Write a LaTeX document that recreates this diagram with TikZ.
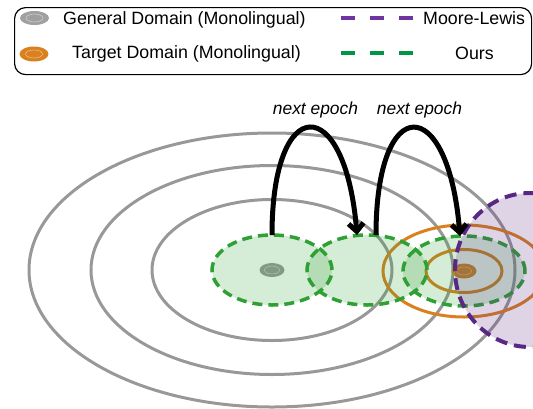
\documentclass[tikz,border=0pt]{standalone}
\usepackage{fontspec}
\setmainfont{Liberation Sans}
\usetikzlibrary{shapes.geometric,arrows.meta}
\definecolor{ggray}{RGB}{152,152,152}
\definecolor{ggreen}{RGB}{46,160,52}
\definecolor{gorange}{RGB}{218,128,30}
\definecolor{gpurple}{RGB}{88,40,132}
\definecolor{lgray}{RGB}{160,160,160}
\definecolor{lpurple}{RGB}{112,52,160}
\definecolor{lgreen}{RGB}{0,150,70}
\tikzset{
  oval/.style 2 args={ellipse,inner sep=0pt,outer sep=0pt,minimum width=#1pt,minimum height=#2pt},
  grayring/.style={draw=ggray,line width=3pt},
  orangering/.style={draw=gorange,line width=3pt},
  zone/.style={fill=ggreen,fill opacity=0.2,draw=ggreen,draw opacity=1,line width=3.5pt,dash pattern=on 10pt off 6pt},
  mlzone/.style={fill=gpurple,fill opacity=0.2,draw=gpurple,draw opacity=1,line width=4pt,dash pattern=on 12pt off 7pt},
  hop/.style={line width=5pt,-{Straight Barb[length=8pt,width=15pt]}},
  lbl/.style={inner sep=0pt,anchor=base,font=\fontsize{17.4}{20}\selectfont\itshape},
  legtext/.style={inner sep=0pt,anchor=base west,font=\fontsize{17.8}{20}\selectfont},
  shine/.style={draw=white,draw opacity=0.55,line width=0.5pt},
  legdash/.style={line width=4pt,dash pattern=on 13.5pt off 15.5pt}
}
\begin{document}
\begin{tikzpicture}[x=1pt,y=-1pt]
\useasboundingbox (0,0) rectangle (533,408);
\clip (0,0) rectangle (533,408);

% legend
\node[draw=black,line width=1.2pt,rounded corners=11pt,minimum width=517pt,minimum height=67pt,inner sep=0pt,anchor=north west] (legend) at (14,7) {};
\node[oval={29}{14},fill=lgray] (lg) at (34.5,18) {};
\node[oval={17}{8},shine] (lgs) at (lg) {};
\node[oval={29}{15},fill=gorange] (lo) at (34,54) {};
\node[oval={17}{8},shine] (los) at (lo) {};
\node[legtext] (lgt) at (63,24) {General Domain (Monolingual)};
\node[legtext] (lot) at (72,58.5) {Target Domain (Monolingual)};
\coordinate (lpa) at (341,18); \coordinate (lpb) at (413,18);
\draw[legdash,draw=lpurple] (lpa) -- (lpb);
\node[legtext] (lml) at (423,24) {Moore-Lewis};
\coordinate (lga) at (341,53); \coordinate (lgb) at (413,53);
\draw[legdash,draw=lgreen] (lga) -- (lgb);
\node[legtext] (lours) at (455,59) {Ours};

% general domain rings
\node[oval={486}{274},grayring] (gr3) at (272,270) {};
\node[oval={362}{209},grayring] (gr2) at (272,270) {};
\node[oval={240}{141},grayring] (gr1) at (272,270) {};
\node[oval={25}{14},fill=ggray] (gdot) at (272,270) {};
\node[oval={15}{8},shine] (gdots) at (gdot) {};

% target domain rings
\node[oval={162}{92},orangering] (or2) at (464,271) {};
\node[oval={76}{43},orangering] (or1) at (464,271) {};
\node[oval={25}{15},fill=gorange] (odot) at (464,271) {};
\node[oval={15}{8},shine] (odots) at (odot) {};

% selected data (ours)
\node[oval={120}{70},zone] (g1) at (272,270) {};
\node[oval={120}{70},zone] (g2) at (367,270) {};
\node[oval={122}{70},zone] (g3) at (464,271) {};

% Moore-Lewis
\node[oval={150}{154},mlzone] (ml) at (530,270) {};

% arrows
\coordinate (a1e) at (357,235);
\coordinate (a2s) at (376,235);
\coordinate (a2e) at (460,236);
\draw[hop] (g1.north) .. controls +(0,-143) and +(-12,-143) .. (a1e);
\draw[hop] (a2s) .. controls +(0,-143) and +(-12,-144) .. (a2e);
\node[lbl] (t1) at (315.5,114) {next epoch};
\node[lbl] (t2) at (419.5,114) {next epoch};
\end{tikzpicture}
\end{document}
